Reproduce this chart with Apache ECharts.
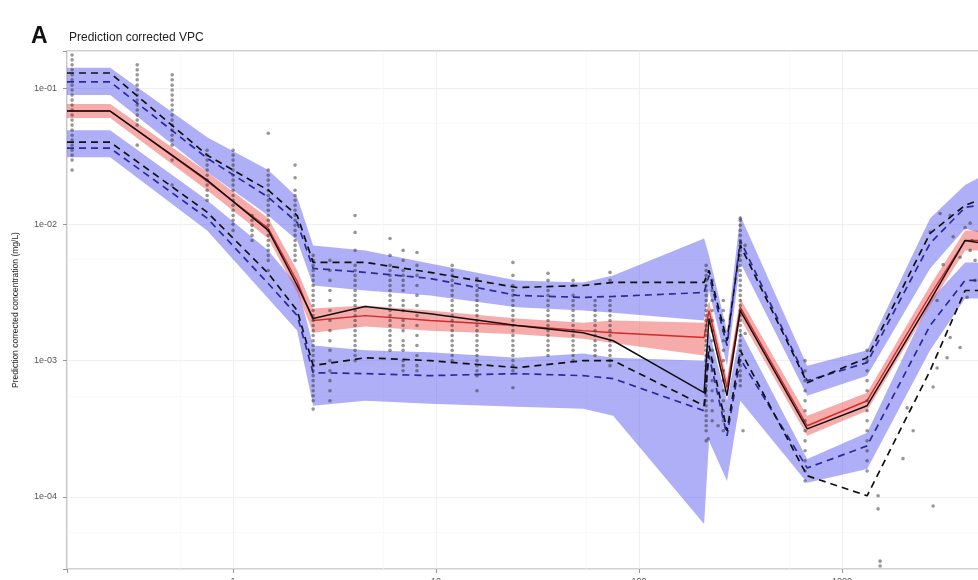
<!DOCTYPE html>
<html>
<head>
<meta charset="utf-8">
<script src="https://cdn.jsdelivr.net/npm/echarts/dist/echarts.min.js"></script>
<style>
  html, body { margin: 0; padding: 0; background: #fff; }
  #chart { width: 978px; height: 580px; }
</style>
</head>
<body>
<div id="chart"></div>
<script>
// bin midpoints (time) shared by every band and line
const binTime = [0.152, 0.248, 0.745, 1.49, 2.07, 2.48, 4.47, 9.34, 25.0, 53.0, 74.5, 209, 221, 271, 315, 673, 1328, 2713, 4035, 4677]

// upper percentile: simulated CI band, simulated median, observed
const uTop = [0.141, 0.141, 0.0436, 0.0250, 0.0158, 0.00701, 0.00644, 0.00517, 0.00388, 0.00375, 0.00422, 0.00788, 0.00592, 0.00166, 0.0116, 0.000919, 0.00119, 0.0111, 0.0194, 0.0218]
const uBot = [0.0888, 0.0888, 0.0242, 0.0116, 0.00762, 0.00356, 0.00327, 0.00301, 0.00246, 0.00233, 0.00225, 0.00197, 0.00327, 0.000919, 0.00526, 0.000553, 0.000776, 0.00475, 0.00934, 0.00873]
const uSim = [0.111, 0.111, 0.0306, 0.0158, 0.0103, 0.00475, 0.00444, 0.00401, 0.00301, 0.00291, 0.00296, 0.00316, 0.00422, 0.00129, 0.00762, 0.000713, 0.000967, 0.00725, 0.0133, 0.0138]
const uObs = [0.129, 0.129, 0.0322, 0.0178, 0.0116, 0.00526, 0.00526, 0.00444, 0.00344, 0.00356, 0.00375, 0.00375, 0.00459, 0.00140, 0.00701, 0.000689, 0.00105, 0.00859, 0.0138, 0.0150]

// median
const mTop = [0.0763, 0.0763, 0.0242, 0.0111, 0.00459, 0.00241, 0.00254, 0.00233, 0.00204, 0.00190, 0.00197, 0.00190, 0.00276, 0.000738, 0.00286, 0.000394, 0.000582, 0.00356, 0.00903, 0.00903]
const mBot = [0.0602, 0.0602, 0.0178, 0.00788, 0.00316, 0.00160, 0.00178, 0.00166, 0.00156, 0.00145, 0.00135, 0.00109, 0.00190, 0.000544, 0.00204, 0.000281, 0.000429, 0.00254, 0.00644, 0.00644]
const mSim = [0.0678, 0.0678, 0.0207, 0.00934, 0.00381, 0.00197, 0.00214, 0.00197, 0.00181, 0.00166, 0.00160, 0.00148, 0.00233, 0.000633, 0.00246, 0.000333, 0.000508, 0.00301, 0.00762, 0.00762]
const mObs = [0.0678, 0.0678, 0.0211, 0.00903, 0.00356, 0.00204, 0.00250, 0.00221, 0.00181, 0.00160, 0.00140, 0.000582, 0.00204, 0.000553, 0.00233, 0.000316, 0.000467, 0.00276, 0.00762, 0.00737]

// lower percentile
const lTop = [0.0491, 0.0491, 0.0150, 0.00644, 0.00356, 0.00129, 0.00119, 0.00115, 0.00105, 0.00113, 0.00105, 0.00100, 0.00166, 0.000508, 0.00166, 0.000190, 0.000296, 0.00276, 0.00526, 0.00526]
const lBot = [0.0311, 0.0311, 0.00903, 0.00286, 0.00166, 0.000467, 0.000508, 0.000483, 0.000459, 0.000444, 0.000394, 0.0000633, 0.000258, 0.000131, 0.000508, 0.000127, 0.000160, 0.00119, 0.00286, 0.00286]
const lSim = [0.0362, 0.0362, 0.0111, 0.00368, 0.00214, 0.000816, 0.000803, 0.000776, 0.000803, 0.000776, 0.000738, 0.000429, 0.00109, 0.000281, 0.00103, 0.000163, 0.000237, 0.00181, 0.00388, 0.00388]
const lObs = [0.0401, 0.0401, 0.0123, 0.00437, 0.00233, 0.000919, 0.00105, 0.00100, 0.000888, 0.00100, 0.00100, 0.000467, 0.00129, 0.000306, 0.00119, 0.000143, 0.000102, 0.000844, 0.00327, 0.00327]

// observations: one time per column, concentrations in that column
const obsTime = [0.161, 0.337, 0.501, 0.745, 1.00, 1.24, 1.49, 2.02, 2.48, 3.00, 3.99, 5.93, 6.88, 8.05, 12.0, 15.9, 23.9, 35.6, 47.3, 60.7, 71.9,
  214, 219, 229, 245, 260, 315, 325, 333, 657, 1328, 1504, 1539, 1995, 2091, 2239, 2713, 2807, 2937, 3040, 3147, 3290, 3405, 3523, 3812, 4035, 4127, 4273, 4366, 4518]
const obsConc = [
  [0.175, 0.161, 0.148, 0.136, 0.125, 0.115, 0.105, 0.0967, 0.0888, 0.0816, 0.0750, 0.0690, 0.0633, 0.0582, 0.0535, 0.0491, 0.0451, 0.0415, 0.0381, 0.0350, 0.0322, 0.0296, 0.0250],
  [0.148, 0.136, 0.125, 0.115, 0.105, 0.0967, 0.0888, 0.0816, 0.0750, 0.0690, 0.0633, 0.0582, 0.0535, 0.0381],
  [0.125, 0.115, 0.105, 0.0967, 0.0888, 0.0816, 0.0750, 0.0690, 0.0633, 0.0582, 0.0535, 0.0491, 0.0451, 0.0415, 0.0381, 0.0296, 0.0194],
  [0.0350, 0.0322, 0.0296, 0.0272, 0.0250, 0.0229, 0.0211, 0.0194, 0.0178, 0.0163, 0.0150],
  [0.0350, 0.0322, 0.0296, 0.0272, 0.0250, 0.0229, 0.0211, 0.0194, 0.0178, 0.0163, 0.0150, 0.0138, 0.0127, 0.0116, 0.0107, 0.0100, 0.00903],
  [0.0116, 0.0107, 0.00983, 0.00903, 0.00830, 0.00762],
  [0.0466, 0.0250, 0.0229, 0.0211, 0.0194, 0.0178, 0.0163, 0.0150, 0.0138, 0.0127, 0.0116, 0.0107, 0.00983, 0.00903, 0.00830, 0.00762, 0.00701, 0.00644, 0.00592, 0.00544, 0.00459],
  [0.0272, 0.0220, 0.0178, 0.0163, 0.0150, 0.0138, 0.0127, 0.0116, 0.0107, 0.00983, 0.00903, 0.00830, 0.00762, 0.00701, 0.00644, 0.00592, 0.00544],
  [0.00592, 0.00544, 0.00500, 0.00459, 0.00422, 0.00388, 0.00356, 0.00327, 0.00301, 0.00276, 0.00254, 0.00233, 0.00214, 0.00197, 0.00181, 0.00166, 0.00153, 0.00140, 0.00129, 0.00119, 0.00109, 0.00100, 0.000919, 0.000844, 0.000776, 0.000713, 0.000655, 0.000602, 0.000553, 0.000508, 0.000441],
  [0.00544, 0.00459, 0.00388, 0.00327, 0.00276, 0.00233, 0.00197, 0.00166, 0.00140, 0.00119, 0.00100, 0.000844, 0.000713, 0.000602, 0.000508],
  [0.0116, 0.00873, 0.00644, 0.00500, 0.00459, 0.00422, 0.00388, 0.00356, 0.00327, 0.00301, 0.00276, 0.00254, 0.00233, 0.00214, 0.00197, 0.00181, 0.00166, 0.00153, 0.00140, 0.00129, 0.00119, 0.00109, 0.00100],
  [0.00788, 0.00592, 0.00500, 0.00459, 0.00422, 0.00388, 0.00356, 0.00327, 0.00301, 0.00276, 0.00254, 0.00233, 0.00214, 0.00197, 0.00181, 0.00166, 0.00153, 0.00140, 0.00129, 0.00119],
  [0.00644, 0.00544, 0.00459, 0.00422, 0.00388, 0.00356, 0.00327, 0.00276, 0.00254, 0.00233, 0.00197, 0.00181, 0.00166, 0.00140, 0.00129, 0.00119, 0.00100, 0.000919, 0.000844],
  [0.00621, 0.00500, 0.00422, 0.00356, 0.00301, 0.00254, 0.00214, 0.00181, 0.00153, 0.00129, 0.00109, 0.000919, 0.000844],
  [0.00500, 0.00459, 0.00422, 0.00388, 0.00356, 0.00327, 0.00301, 0.00276, 0.00254, 0.00233, 0.00214, 0.00197, 0.00181, 0.00166, 0.00153, 0.00140, 0.00129, 0.00119, 0.00109, 0.00100],
  [0.00401, 0.00388, 0.00356, 0.00327, 0.00301, 0.00276, 0.00254, 0.00233, 0.00214, 0.00197, 0.00181, 0.00166, 0.00153, 0.00140, 0.00129, 0.00119, 0.00109, 0.00100, 0.000919, 0.000844, 0.000776, 0.000602],
  [0.00526, 0.00422, 0.00356, 0.00327, 0.00301, 0.00276, 0.00254, 0.00233, 0.00214, 0.00197, 0.00181, 0.00166, 0.00153, 0.00140, 0.00129, 0.00119, 0.00109, 0.00100, 0.000919, 0.000844, 0.000633],
  [0.00437, 0.00388, 0.00327, 0.00301, 0.00276, 0.00254, 0.00233, 0.00214, 0.00197, 0.00181, 0.00166, 0.00153, 0.00140, 0.00129, 0.00119, 0.00109],
  [0.00388, 0.00356, 0.00301, 0.00276, 0.00254, 0.00233, 0.00214, 0.00197, 0.00181, 0.00166, 0.00153, 0.00140, 0.00129, 0.00119, 0.00109, 0.00100],
  [0.00276, 0.00254, 0.00233, 0.00214, 0.00197, 0.00181, 0.00166, 0.00153, 0.00140, 0.00129, 0.00119, 0.00109],
  [0.00444, 0.00388, 0.00276, 0.00254, 0.00233, 0.00214, 0.00197, 0.00181, 0.00166, 0.00153, 0.00140, 0.00129, 0.00119, 0.00109, 0.00100, 0.000919],
  [0.00500, 0.00459, 0.00422, 0.00388, 0.00356, 0.00327, 0.00301, 0.00276, 0.00254, 0.00233, 0.00214, 0.00197, 0.00181, 0.00166, 0.00153, 0.00140, 0.00129, 0.00119, 0.00109, 0.00100, 0.000919, 0.000844, 0.000776, 0.000713, 0.000655, 0.000602, 0.000553, 0.000508, 0.000467, 0.000429, 0.000394, 0.000362, 0.000333, 0.000306, 0.000258],
  [0.000267],
  [0.00388, 0.00327, 0.00276, 0.00233, 0.00197, 0.00166, 0.00140, 0.00119, 0.00100, 0.000844, 0.000713, 0.000602, 0.000508, 0.000429, 0.000362],
  [0.000333],
  [0.00276, 0.00233, 0.00197, 0.00166, 0.00140, 0.00119, 0.00100, 0.000844, 0.000713, 0.000602, 0.000508, 0.000429, 0.000362, 0.000306],
  [0.0111, 0.0107, 0.00983, 0.00903, 0.00830, 0.00762, 0.00701, 0.00644, 0.00592, 0.00544, 0.00500, 0.00459, 0.00422, 0.00388, 0.00356, 0.00327, 0.00301, 0.00276, 0.00254, 0.00233, 0.00214, 0.00197, 0.00181, 0.00166, 0.00153, 0.00140, 0.00129, 0.00119, 0.00109, 0.00100, 0.000919, 0.000844, 0.000776, 0.000713, 0.000655],
  [0.000306],
  [0.00701, 0.00158],
  [0.00100, 0.000844, 0.000713, 0.000602, 0.000508, 0.000429, 0.000362, 0.000306, 0.000258, 0.000218, 0.000184, 0.000155, 0.000131],
  [0.00119, 0.00100, 0.000844, 0.000713, 0.000602, 0.000508, 0.000429, 0.000362, 0.000306, 0.000258, 0.000218, 0.000184, 0.000155],
  [0.000102, 0.0000817],
  [0.0000338, 0.0000311],
  [0.000191],
  [0.000450],
  [0.000306],
  [0.00879],
  [0.0000859, 0.000641],
  [0.00276, 0.000884],
  [0.0120],
  [0.00506],
  [0.00105],
  [0.0116, 0.00148],
  [0.00810],
  [0.00574, 0.00125],
  [0.00946],
  [0.00291],
  [0.0102, 0.00644],
  [0.00762],
  [0.00544, 0.00388]
]

const BLUE_BAND = 'rgba(85, 85, 240, 0.47)'
const RED_BAND = 'rgba(238, 70, 70, 0.45)'

const pairs = (ys) => binTime.map((t, i) => [t, ys[i]])

// ribbon between two arrays, drawn through the axis scales
const band = (name, lo, hi, color) => ({
  type: 'custom',
  name: name,
  z: 1,
  silent: true,
  data: [[binTime[0], lo[0]]],
  renderItem: (params, api) => {
    const upper = binTime.map((t, i) => api.coord([t, hi[i]]))
    const lower = binTime.map((t, i) => api.coord([t, lo[i]])).reverse()
    return {
      type: 'polygon',
      shape: { points: upper.concat(lower) },
      style: { fill: color }
    }
  }
})

const line = (name, ys, color, width, dashed, z) => ({
  type: 'line',
  name: name,
  z: z,
  data: pairs(ys),
  symbol: 'none',
  silent: true,
  lineStyle: { color: color, width: width, type: dashed ? [7, 5] : 'solid' }
})

const points = []
obsTime.forEach((t, i) => obsConc[i].forEach(c => points.push([t, c])))

const powerLabel = (v) => {
  const e = Math.log10(v)
  const r = Math.round(e)
  if (Math.abs(e - r) > 1e-6) return ''
  return '1e' + (r < 0 ? '-' : '+') + String(Math.abs(r)).padStart(2, '0')
}
const plainLabel = (v) => {
  const e = Math.log10(v)
  const r = Math.round(e)
  if (Math.abs(e - r) > 1e-6) return ''
  return String(Math.round(Math.pow(10, r)))
}

const chart = echarts.init(document.getElementById('chart'))
chart.setOption({
  animation: false,
  backgroundColor: '#fff',
  title: [
    { text: 'A', left: 26, top: 20, textStyle: { fontFamily: 'Liberation Sans', fontSize: 23, fontWeight: 'bold', color: '#111' } },
    { text: 'Prediction corrected VPC', left: 64, top: 27, textStyle: { fontFamily: 'Liberation Sans', fontSize: 12, fontWeight: 'normal', color: '#222' } }
  ],
  // right border sits just off the canvas, as in the cropped original
  grid: {
    left: 67, top: 51, right: -6, bottom: 11,
    containLabel: false, outerBoundsMode: 'none',
    show: true, borderColor: '#a3a3a3', borderWidth: 1.2
  },
  xAxis: {
    type: 'log', logBase: 10, min: 0.152, max: 5000,
    axisLine: { show: false },
    axisTick: { show: true, length: 4, lineStyle: { color: '#999' } },
    axisLabel: { formatter: plainLabel, fontFamily: 'Liberation Sans', fontSize: 9, color: '#555', margin: 8 },
    splitLine: { show: true, lineStyle: { color: '#ececec', width: 0.8 } },
    minorTick: { show: false, splitNumber: 2 },
    minorSplitLine: { show: true, lineStyle: { color: '#f5f5f5', width: 0.6 } }
  },
  yAxis: {
    type: 'log', logBase: 10, min: 2.96e-5, max: 0.187,
    name: 'Prediction corrected concentration (mg/L)',
    nameLocation: 'middle', nameGap: 47,
    nameTextStyle: { fontFamily: 'Liberation Sans', fontSize: 8.5, color: '#222' },
    axisLine: { show: false },
    axisTick: { show: true, length: 4, lineStyle: { color: '#999' } },
    axisLabel: { formatter: powerLabel, fontFamily: 'Liberation Sans', fontSize: 9, color: '#555', margin: 10 },
    splitLine: { show: true, lineStyle: { color: '#ececec', width: 0.8 } },
    minorTick: { show: false, splitNumber: 2 },
    minorSplitLine: { show: true, lineStyle: { color: '#f5f5f5', width: 0.6 } }
  },
  series: [
    band('upper CI', uBot, uTop, BLUE_BAND),
    band('lower CI', lBot, lTop, BLUE_BAND),
    band('median CI', mBot, mTop, RED_BAND),
    line('sim upper', uSim, '#2a2a9c', 1.7, true, 2),
    line('sim lower', lSim, '#2a2a9c', 1.7, true, 2),
    line('sim median', mSim, '#d02a2a', 1.4, false, 2),
    {
      type: 'scatter', name: 'observed', z: 3, silent: true,
      data: points, symbol: 'circle', symbolSize: 3.6,
      itemStyle: { color: 'rgba(45, 45, 45, 0.62)' }
    },
    line('obs upper', uObs, '#111', 1.7, true, 4),
    line('obs lower', lObs, '#111', 1.7, true, 4),
    line('obs median', mObs, '#111', 1.5, false, 4)
  ]
})
</script>
</body>
</html>
